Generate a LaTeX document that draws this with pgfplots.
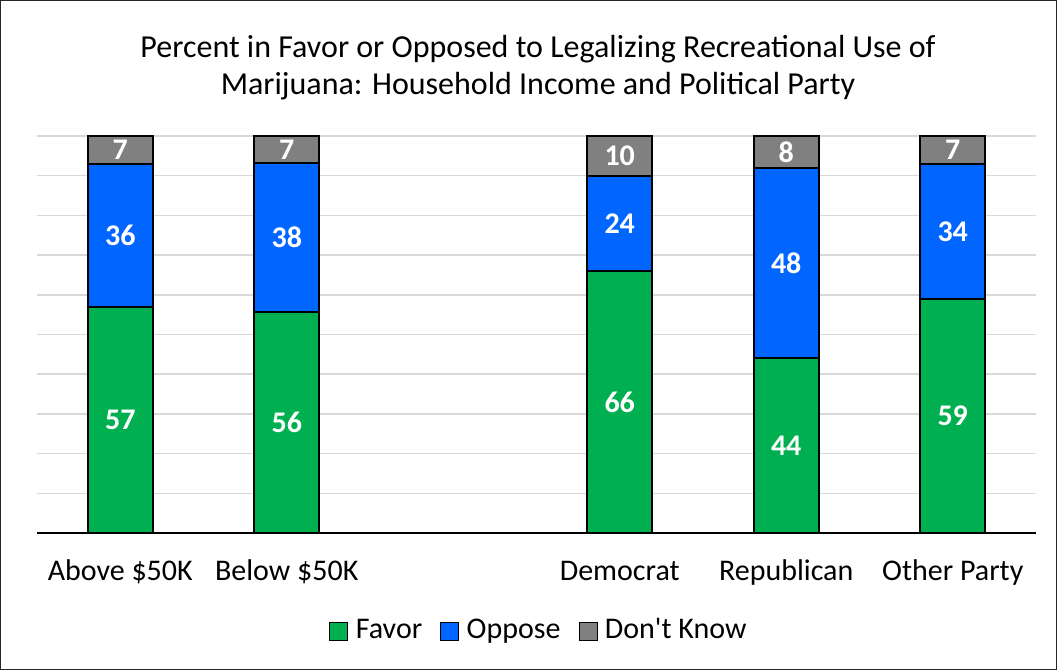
\documentclass[border=0pt]{standalone}
\usepackage{fontspec}
\setmainfont{Carlito}
\usepackage{pgfplots}
\pgfplotsset{compat=1.18}
\definecolor{favor}{HTML}{00B050}
\definecolor{oppose}{HTML}{0066FF}
\definecolor{dk}{HTML}{808080}
\definecolor{gridc}{HTML}{D9D9D9}
\begin{document}
\begin{tikzpicture}
\fontsize{15}{18}\selectfont
\path[use as bounding box] (0,0) rectangle (528.5pt,335pt);
\draw[line width=0.6pt, black!85] (0.3pt,0.3pt) rectangle (528.2pt,334.7pt);
\node[align=center, font=\fontsize{16}{18.5}\selectfont] at (269pt,301pt) {Percent in Favor or Opposed to Legalizing Recreational Use of\\Marijuana: Household Income and Political Party};
\begin{axis}[
  at={(18.5pt,68.5pt)}, anchor=south west,
  scale only axis, width=499.5pt, height=198.5pt,
  ybar stacked, bar width=32.5pt,
  xmin=-0.5, xmax=5.5, ymin=0, ymax=100,
  xtick={0,1,3,4,5},
  xticklabels={Above \$50K, Below \$50K, Democrat, Republican, Other Party},
  xticklabel style={font=\fontsize{15}{18}\selectfont, anchor=base, yshift=-23.5pt},
  ytick={0,10,...,100}, yticklabels={},
  major tick length=0pt,
  ymajorgrids, grid style={gridc, line width=0.75pt},
  axis x line*=bottom, axis y line*=left,
  y axis line style={draw=none},
  x axis line style={black, line width=0.9pt},
  clip=false,
  every axis plot/.append style={draw=black, line width=0.9pt},
  point meta=explicit symbolic,
  nodes near coords,
  every node near coord/.append style={anchor=center, text=white, font=\fontsize{15}{18}\selectfont\bfseries},
  legend columns=3,
  legend style={at={(0.5035,-0.247)}, anchor=center, draw=none, fill=none,
    font=\fontsize{15}{18}\selectfont,
    /tikz/every even column/.append style={column sep=7pt}},
  legend image code/.code={\draw[#1,draw=black,line width=0.5pt] (0pt,-4.5pt) rectangle (9pt,4.5pt); \path (10.5pt,0pt);},
]
\addplot[fill=favor] coordinates {(0,57) [57] (1,55.6) [56] (3,66) [66] (4,44) [44] (5,59) [59]};
\addplot[fill=oppose] coordinates {(0,36) [36] (1,37.6) [38] (3,24) [24] (4,48) [48] (5,34) [34]};
\addplot[fill=dk] coordinates {(0,7) [7] (1,6.8) [7] (3,10) [10] (4,8) [8] (5,7) [7]};
\legend{Favor, Oppose, Don\textquotesingle t Know}
\end{axis}
\end{tikzpicture}
\end{document}
